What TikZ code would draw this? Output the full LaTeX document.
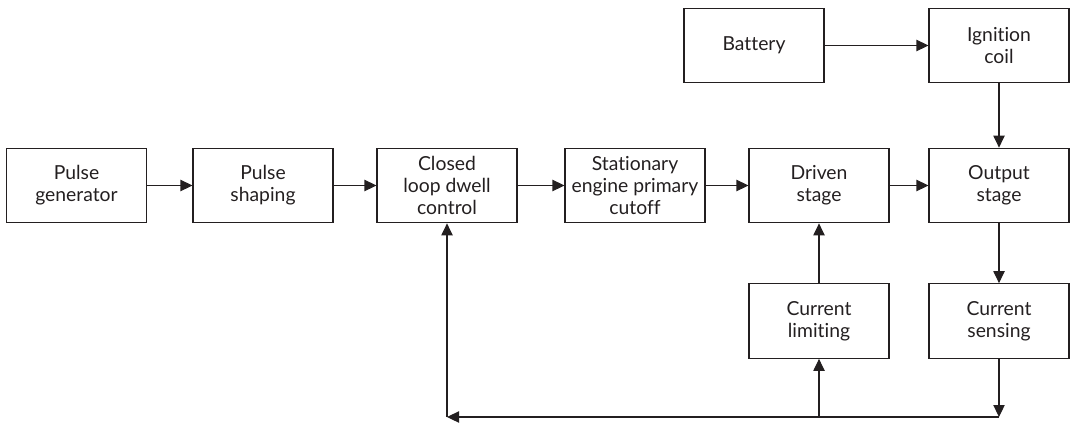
\documentclass[tikz,border=0pt]{standalone}
\usepackage{fontspec}
\setmainfont{Lato}[Ligatures=NoCommon]
\usetikzlibrary{arrows.meta,positioning,calc}
\definecolor{ink}{HTML}{231F20}
\tikzset{
  >={Triangle[length=9pt,width=8.5pt]},
  every node/.append style={text=ink},
  block/.style={
    draw=ink,
    line width=0.8pt,
    minimum width=105pt,
    minimum height=56pt,
    inner sep=2pt,
    align=center,
    font=\fontsize{14.5}{16.5}\selectfont,
  },
  wire/.style={draw=ink, line width=0.8pt, ->},
}
\begin{document}
\begin{tikzpicture}[x=0.75pt,y=-0.75pt]
  \useasboundingbox (0,0) rectangle (1070,425);

  % --- main chain ---
  \node[block] (gen) at (76.5,185.5) {Pulse\\generator};
  \node[block] (shape) at (263,185.5) {Pulse\\shaping};
  \node[block] (dwell) at (447,185.5) {Closed\\loop dwell\\control};
  \node[block] (cutoff) at (635,185.5) {Stationary\\engine primary\\cutoff};
  \node[block] (driven) at (819,185.5) {Driven\\stage};
  \node[block] (output) at (999,185.5) {Output\\stage};
  \foreach \a/\b in {gen/shape, shape/dwell, dwell/cutoff, cutoff/driven, driven/output} {
    \draw[wire] (\a) -- (\b);
  }

  % --- supply ---
  \node[block] (battery) at (754,45.5) {Battery};
  \node[block] (coil) at (999,45.5) {Ignition\\coil};
  \draw[wire] (battery) -- (coil);
  \draw[wire] (coil) -- (output);

  % --- current loop ---
  \node[block] (limit) at (819,321) {Current\\limiting};
  \node[block] (sense) at (999,321) {Current\\sensing};
  \draw[wire] (output) -- (sense);
  \draw[wire] (limit) -- (driven);

  % feedback bus
  \coordinate (busR) at (999,417);
  \coordinate (busL) at (447,417);
  \draw[wire] (sense) -- (busR);
  \draw[wire] (busR) -- (busL);
  \draw[wire] (busL) -- (dwell);
  \draw[wire] (limit |- busL) -- (limit);
\end{tikzpicture}
\end{document}
